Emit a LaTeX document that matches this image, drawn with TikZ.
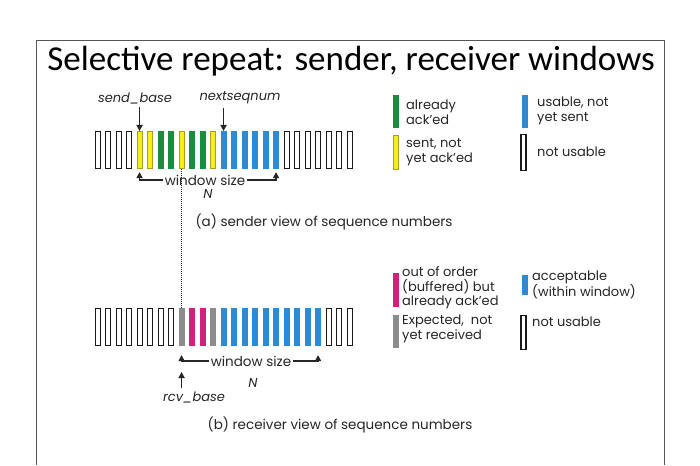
\documentclass[tikz,border=0pt]{standalone}
\usepackage{fontspec}
\setmainfont{Poppins}
\newfontfamily\titlefont{Carlito}
\usepackage{tikz}
\usetikzlibrary{arrows.meta,positioning}
\definecolor{WinInk}{HTML}{262626}
\definecolor{WinFrame}{HTML}{555555}
\definecolor{fillN}{HTML}{FFFFFF}
\definecolor{lineN}{HTML}{1A1A1A}
\definecolor{fillY}{HTML}{F6EE1C}
\definecolor{lineY}{HTML}{A8A020}
\definecolor{fillG}{HTML}{1B8B3D}
\definecolor{lineG}{HTML}{1B8B3D}
\definecolor{fillB}{HTML}{2B8BD6}
\definecolor{lineB}{HTML}{2B8BD6}
\definecolor{fillM}{HTML}{D1217B}
\definecolor{lineM}{HTML}{D1217B}
\definecolor{fillE}{HTML}{8C8C8C}
\definecolor{lineE}{HTML}{8C8C8C}
\tikzset{
  winlabel/.style={font=\fontsize{13.5}{15}\selectfont, text=WinInk},
  winitalic/.style={font=\fontsize{13}{15}\selectfont\itshape, text=WinInk},
  legtext/.style={font=\fontsize{13}{14.5}\selectfont, text=WinInk, align=left, inner sep=0pt, anchor=west},
  cellbox/.style={line width=1.1pt, minimum width=5pt, minimum height=37pt, inner sep=0pt, anchor=north west},
  legbar/.style={line width=1.1pt, minimum width=5pt, inner sep=0pt},
  winarrow/.style={-{Triangle[length=6pt,width=6pt]}, line width=1.6pt, draw=WinInk},
  winspan/.style={dash pattern=on 1.2pt off 0.8pt, line width=1.3pt, draw=WinInk}
}
\begin{document}
\begin{tikzpicture}[x=1pt, y=-1pt, every node/.style={winlabel}]
\useasboundingbox (0,0) rectangle (700,465);
\fill[white] (0,0) rectangle (700,465);
\draw[WinFrame, line width=0.8pt] (36,465) -- (36,40) -- (664,40) -- (664,465);
\node[font=\titlefont\fontsize{35}{40}\selectfont, text=black] (title) at (351,61) {Selective repeat: sender, receiver windows};
% sender sequence numbers
\foreach \c [count=\i from 0] in {N,N,N,N,Y,Y,G,G,Y,G,G,Y,B,B,B,B,B,B,N,N,N,N,N,N,N}
  \node[cellbox, fill=fill\c, draw=line\c] (s\i) at ({94.5+10.5*\i},131) {};
\node[winitalic] (sbase) at (135,98) {send\_base};
\node[winitalic] (snext) at (240,98) {nextseqnum};
\draw[winarrow] (sbase.south -| s4.north) -- (s4.north);
\draw[winarrow] (snext.south -| s12.north) -- (s12.north);
\node[inner sep=2pt] (swin) at (205,180) {window size};
\node[winitalic] (sN) at (208,194) {N};
\draw[winarrow, shorten >=3pt] (swin.west) -| (s4.south);
\draw[winarrow, shorten >=3pt] (swin.east) -| (s17.south);
\node (scap) at (324,222) {(a) sender view of sequence numbers};
% receiver sequence numbers
\foreach \c [count=\i from 0] in {N,N,N,N,N,N,N,N,E,M,M,E,B,B,B,B,B,B,B,B,B,B,N,N,N}
  \node[cellbox, fill=fill\c, draw=line\c] (r\i) at ({94.5+10.5*\i},308) {};
\draw[winspan] (s8.south) -- (r8.north);
\node[inner sep=2pt] (rwin) at (251,361) {window size};
\node[winitalic] (rN) at (253,383) {N};
\draw[winarrow, shorten >=9pt] (rwin.west) -| (r8.south);
\draw[winarrow, shorten >=9pt] (rwin.east) -| (r21.south);
\node[winitalic] (rbase) at (194,397) {rcv\_base};
\draw[winarrow, shorten >=11pt] (rbase.north -| r8.south) -- (rwin.west -| r8.south);
\node (rcap) at (340,425) {(b) receiver view of sequence numbers};
% sender legend
\node[legbar, minimum height=32pt, fill=fillG, draw=lineG] (lgacked) at (396,111.5) {};
\node[legtext] (tgacked) at (406,112) {already\\ack'ed};
\node[legbar, minimum height=32pt, fill=fillB, draw=lineB] (lgusable) at (525,111.5) {};
\node[legtext] (tgusable) at (537,111) {usable, not\\yet sent};
\node[legbar, minimum height=34pt, fill=fillY, draw=lineY] (lgsent) at (396,152.5) {};
\node[legtext] (tgsent) at (406,152) {sent, not\\yet ack'ed};
\node[legbar, minimum height=36pt, fill=fillN, draw=lineN] (lgnot) at (523.5,152.5) {};
\node[legtext] (tgnot) at (537,152) {not usable};
% receiver legend
\node[legbar, minimum height=33pt, fill=fillM, draw=lineM] (lrorder) at (396,290) {};
\node[legtext] (trorder) at (402,288) {out of order\\(buffered) but\\already ack'ed};
\node[legbar, minimum height=19pt, fill=fillB, draw=lineB] (lraccept) at (525,285) {};
\node[legtext] (traccept) at (532,285) {acceptable\\(within window)};
\node[legbar, minimum height=32pt, fill=fillE, draw=lineE] (lrexpect) at (396,331.5) {};
\node[legtext] (trexpect) at (402,329) {Expected,\ \ not\\yet received};
\node[legbar, minimum height=34pt, fill=fillN, draw=lineN] (lrnot) at (523.5,332.5) {};
\node[legtext] (trnot) at (532,322) {not usable};
\end{tikzpicture}
\end{document}
